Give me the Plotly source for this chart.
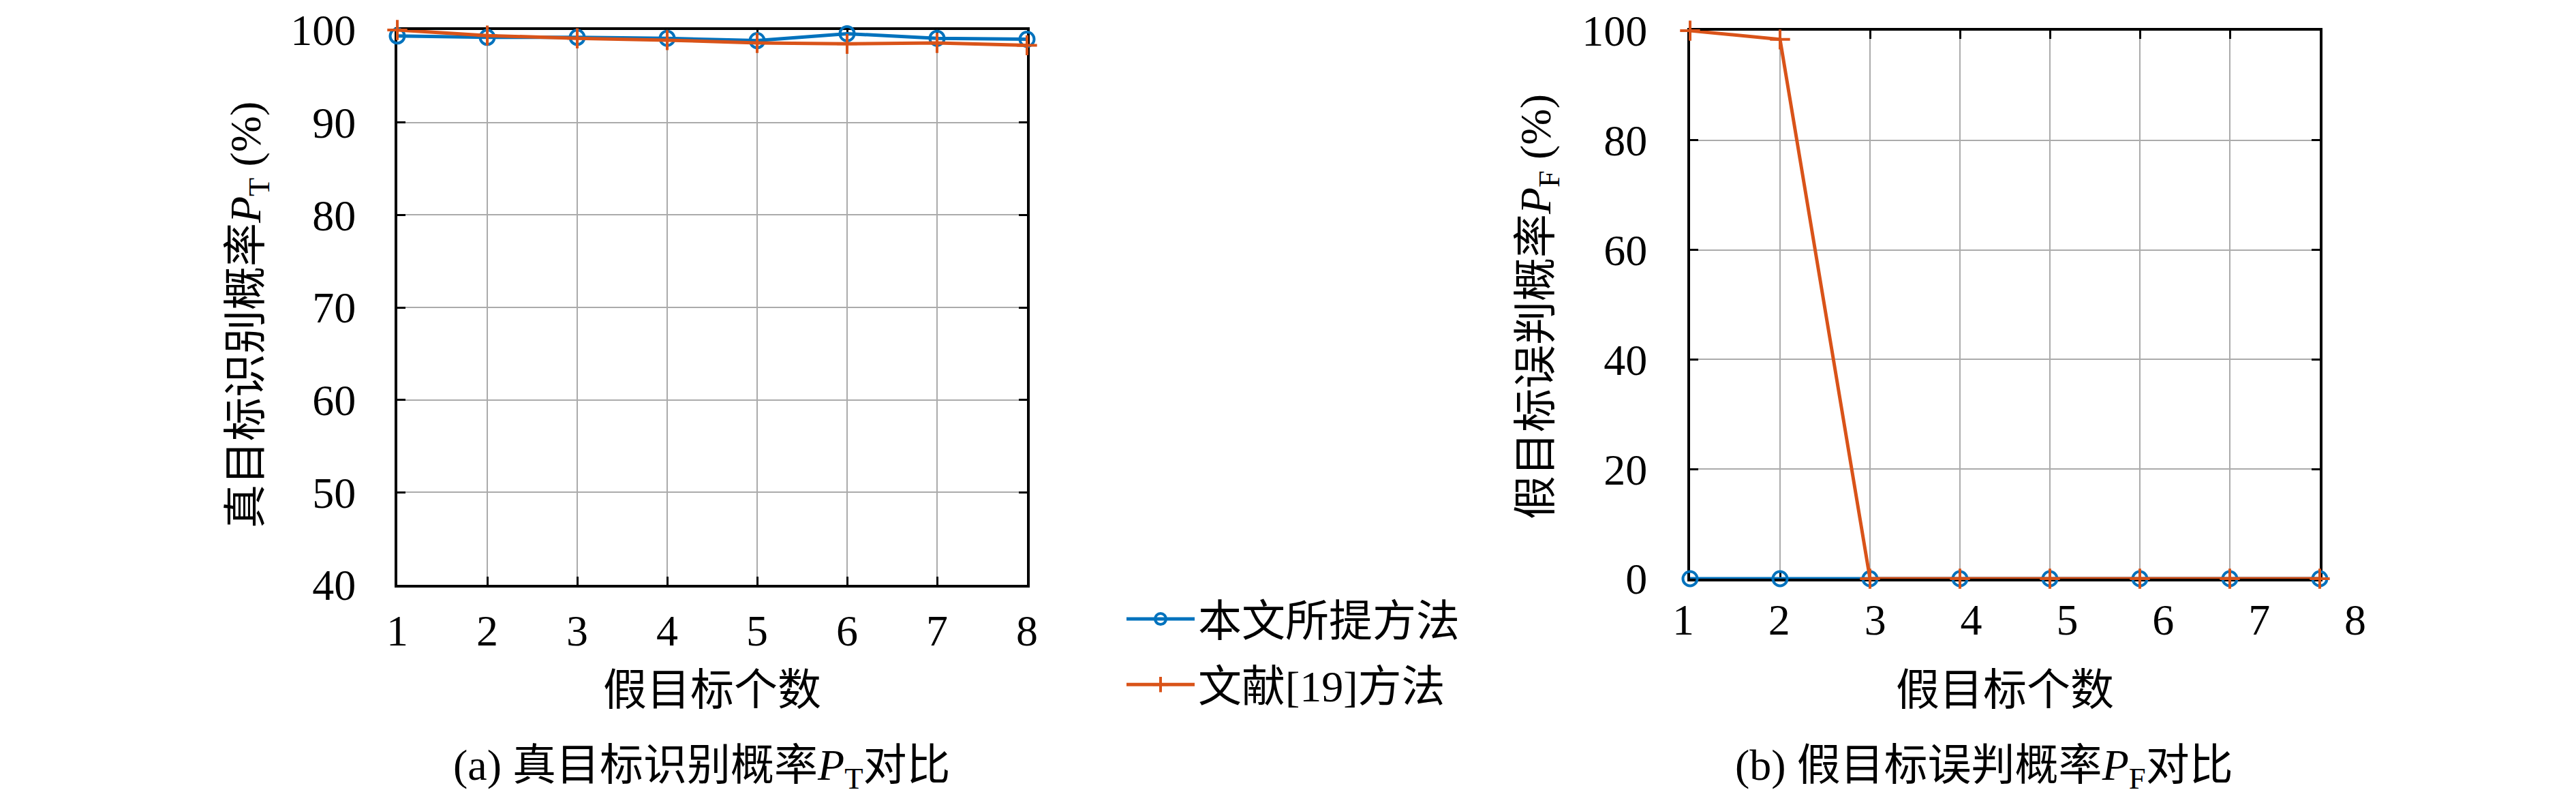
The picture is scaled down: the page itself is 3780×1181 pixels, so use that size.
import plotly.graph_objects as go

# ---------------- data ----------------
num_false_targets = [1, 2, 3, 4, 5, 6, 7, 8]
pt_proposed = [99.35, 99.2, 99.2, 99.1, 98.85, 99.6, 99.1, 99.0]
pt_ref19 = [100.0, 99.4, 99.1, 98.9, 98.6, 98.5, 98.6, 98.35]
pf_proposed = [0, 0, 0, 0, 0, 0, 0, 0]
pf_ref19 = [100.0, 98.4, 0, 0, 0, 0, 0, 0]

name_proposed = "本文所提方法"
name_ref19 = "文献[19]方法"
x_title = "假目标个数"
y_title_a = "真目标识别概率<i>P</i><sub>T</sub> (%)"
y_title_b = "假目标误判概率<i>P</i><sub>F</sub> (%)"
caption_a = "(a) 真目标识别概率<i>P</i><sub>T</sub>对比"
caption_b = "(b) 假目标误判概率<i>P</i><sub>F</sub>对比"
x_ticks = [1, 2, 3, 4, 5, 6, 7, 8]
y_ticks_a = [40, 50, 60, 70, 80, 90, 100]
y_ticks_b = [0, 20, 40, 60, 80, 100]

# ---------------- style ----------------
W, H = 3780, 1181
BLUE = "#0072BD"
ORANGE = "#D95319"
FONT = "Liberation Serif, Noto Sans CJK SC, serif"
FS = 64

def px_x(v):
    return v / W

def px_y(v):
    return 1 - v / H

dom_xa = [px_x(575), px_x(1499)]
dom_ya = [px_y(850), px_y(36)]
dom_xb = [px_x(2472), px_x(3396)]
dom_yb = [px_y(841), px_y(37)]
dom_xb_labels = [px_x(2462), px_x(3448)]

fig = go.Figure()

line_w = 5
circle = dict(symbol="circle-open", size=21, line=dict(width=4, color=BLUE), color=BLUE)
plus = dict(symbol="cross-thin-open", size=21, line=dict(width=4, color=ORANGE), color=ORANGE)

fig.add_trace(go.Scatter(x=num_false_targets, y=pt_proposed, name=name_proposed,
                         mode="lines+markers", line=dict(color=BLUE, width=line_w),
                         marker=circle, cliponaxis=False, xaxis="x", yaxis="y",
                         legendgroup="a"))
fig.add_trace(go.Scatter(x=num_false_targets, y=pt_ref19, name=name_ref19,
                         mode="lines+markers", line=dict(color=ORANGE, width=line_w),
                         marker=plus, cliponaxis=False, xaxis="x", yaxis="y",
                         legendgroup="b"))
fig.add_trace(go.Scatter(x=num_false_targets, y=pf_proposed, name=name_proposed,
                         mode="lines+markers", line=dict(color=BLUE, width=line_w),
                         marker=circle, cliponaxis=False, xaxis="x2", yaxis="y2",
                         showlegend=False))
fig.add_trace(go.Scatter(x=num_false_targets, y=pf_ref19, name=name_ref19,
                         mode="lines+markers", line=dict(color=ORANGE, width=line_w),
                         marker=plus, cliponaxis=False, xaxis="x2", yaxis="y2",
                         showlegend=False))
# invisible carrier for the (b) tick-label axis
fig.add_trace(go.Scatter(x=[x_ticks[0], x_ticks[-1]], y=[0, 0], mode="markers",
                         marker=dict(opacity=0), hoverinfo="skip", showlegend=False,
                         xaxis="x3", yaxis="y3"))

common = dict(showline=True, linecolor="black", linewidth=4, mirror="allticks",
              ticks="inside", ticklen=12, tickwidth=3, tickcolor="black",
              showgrid=True, gridcolor="#ababab", gridwidth=2, zeroline=False,
              layer="below traces", automargin=False,
              tickfont=dict(family=FONT, size=FS, color="black"))

fig.update_layout(
    width=W, height=H,
    margin=dict(l=0, r=0, t=0, b=0, autoexpand=False),
    paper_bgcolor="white", plot_bgcolor="rgba(0,0,0,0)",
    font=dict(family=FONT, size=FS, color="black"),
    xaxis=dict(domain=dom_xa, range=[1, 8], tickvals=x_ticks, anchor="y",
               ticklabelstandoff=8, **common),
    yaxis=dict(domain=dom_ya, range=[40, 100], tickvals=y_ticks_a, anchor="x",
               ticklabelstandoff=44, **common),
    xaxis2=dict(domain=dom_xb, range=[1, 8], tickvals=x_ticks, anchor="y2",
                showticklabels=False, **common),
    yaxis2=dict(domain=dom_yb, range=[0, 100], tickvals=y_ticks_b, anchor="x2",
                ticklabelstandoff=46, **common),
    xaxis3=dict(domain=dom_xb_labels, range=[1, 8], tickvals=x_ticks,
                anchor="free", position=dom_ya[0], showline=False, showgrid=False,
                zeroline=False, ticks="", ticklabelstandoff=8, automargin=False,
                tickfont=dict(family=FONT, size=FS, color="black")),
    yaxis3=dict(domain=dom_yb, range=[0, 1], visible=False, anchor="x3",
                automargin=False),
    legend=dict(x=px_x(1640), y=px_y(852), xanchor="left", yanchor="top",
                font=dict(family=FONT, size=FS), itemwidth=100,
                tracegroupgap=10, bgcolor="rgba(0,0,0,0)"),
    showlegend=True,
)

ann = dict(xref="paper", yref="paper", showarrow=False, xanchor="center",
           yanchor="middle", font=dict(family=FONT, size=FS, color="black"))
fig.add_annotation(text=x_title, x=px_x(1037), y=px_y(1004), **ann)
fig.add_annotation(text=x_title, x=px_x(2934), y=px_y(1004), **ann)
fig.add_annotation(text=caption_a, x=px_x(1022), y=px_y(1119), **ann)
fig.add_annotation(text=caption_b, x=px_x(2903), y=px_y(1119), **ann)
fig.add_annotation(text=y_title_a, x=px_x(357), y=px_y(454), textangle=-90, **ann)
fig.add_annotation(text=y_title_b, x=px_x(2250), y=px_y(442), textangle=-90, **ann)

fig.write_html("out.html")
